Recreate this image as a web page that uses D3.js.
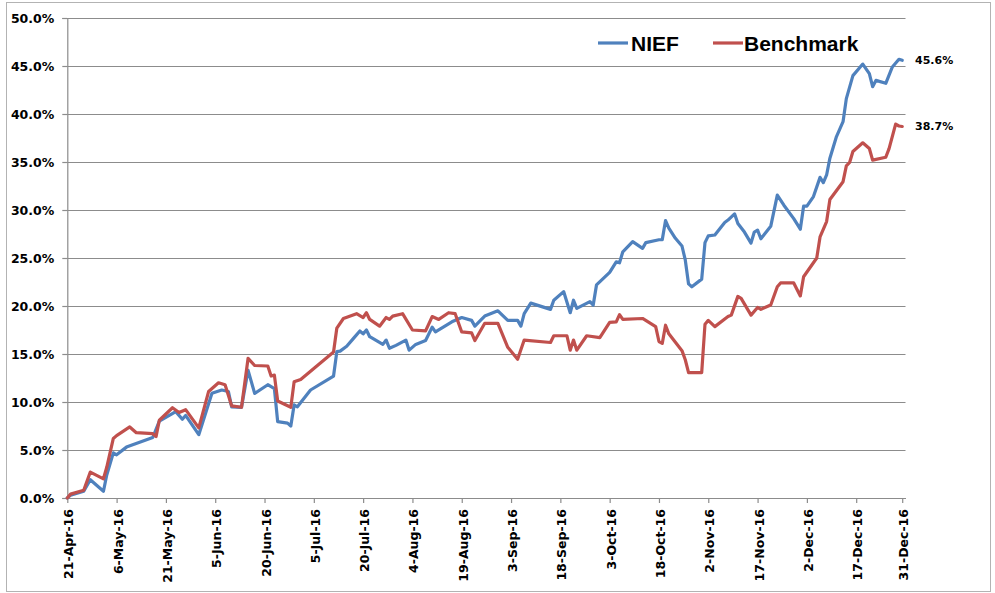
<!DOCTYPE html>
<html>
<head>
<meta charset="utf-8">
<script src="https://cdn.jsdelivr.net/npm/d3@7"></script>
<style>
  html, body { margin: 0; padding: 0; background: #ffffff; }
  svg { display: block; }
</style>
</head>
<body>
<svg id="chart" width="995" height="593"></svg>
<script>
// ---------- DATA ----------
const seriesNames = ["NIEF", "Benchmark"];
const seriesColors = ["#4F81BD", "#C0504D"];

const niefDates = ["2016-04-21","2016-04-22","2016-04-26","2016-04-28","2016-05-02","2016-05-03","2016-05-05","2016-05-06","2016-05-09","2016-05-13","2016-05-17","2016-05-19","2016-05-24","2016-05-26","2016-05-27","2016-05-31","2016-06-04","2016-06-07","2016-06-09","2016-06-10","2016-06-13","2016-06-15","2016-06-17","2016-06-21","2016-06-23","2016-06-24","2016-06-27","2016-06-28","2016-06-29","2016-06-30","2016-07-04","2016-07-11","2016-07-12","2016-07-13","2016-07-15","2016-07-17","2016-07-19","2016-07-20","2016-07-21","2016-07-22","2016-07-26","2016-07-27","2016-07-28","2016-07-30","2016-08-02","2016-08-03","2016-08-05","2016-08-08","2016-08-10","2016-08-11","2016-08-16","2016-08-19","2016-08-22","2016-08-23","2016-08-25","2016-08-26","2016-08-30","2016-09-02","2016-09-05","2016-09-06","2016-09-07","2016-09-09","2016-09-15","2016-09-16","2016-09-19","2016-09-21","2016-09-22","2016-09-23","2016-09-27","2016-09-28","2016-09-29","2016-10-03","2016-10-05","2016-10-06","2016-10-07","2016-10-10","2016-10-13","2016-10-14","2016-10-18","2016-10-19","2016-10-20","2016-10-21","2016-10-23","2016-10-25","2016-10-26","2016-10-27","2016-10-28","2016-10-31","2016-11-01","2016-11-02","2016-11-04","2016-11-07","2016-11-08","2016-11-10","2016-11-11","2016-11-13","2016-11-15","2016-11-16","2016-11-17","2016-11-18","2016-11-21","2016-11-23","2016-11-25","2016-11-28","2016-11-30","2016-12-01","2016-12-02","2016-12-04","2016-12-06","2016-12-07","2016-12-08","2016-12-09","2016-12-11","2016-12-13","2016-12-14","2016-12-16","2016-12-19","2016-12-21","2016-12-22","2016-12-23","2016-12-26","2016-12-28","2016-12-30","2016-12-31"];
const niefValues = [0.0,0.3,0.7,1.9,0.7,2.4,4.7,4.5,5.3,5.8,6.3,8.0,9.0,8.2,8.6,6.6,10.9,11.25,11.1,9.5,9.45,13.3,10.9,11.8,11.4,7.95,7.8,7.5,9.7,9.5,11.25,12.7,15.25,15.3,15.8,16.6,17.4,17.1,17.5,16.8,16.0,16.45,15.6,15.9,16.45,15.4,16.0,16.4,17.8,17.3,18.35,18.8,18.5,17.9,18.6,18.95,19.5,18.5,18.5,17.9,19.2,20.3,19.65,20.6,21.5,19.3,20.6,19.75,20.45,20.1,22.2,23.5,24.6,24.5,25.65,26.7,26.0,26.6,26.9,26.9,28.9,28.1,27.05,26.25,24.8,22.3,22.0,22.8,26.6,27.3,27.4,28.7,28.95,29.6,28.6,27.7,26.55,27.7,27.9,27.0,28.3,31.55,30.5,29.1,28.0,30.4,30.4,31.4,33.4,32.85,33.65,35.4,37.65,39.2,41.6,44.0,45.2,44.2,42.85,43.5,43.2,44.9,45.7,45.6];

const benchDates = ["2016-04-21","2016-04-22","2016-04-26","2016-04-28","2016-05-02","2016-05-03","2016-05-05","2016-05-06","2016-05-10","2016-05-12","2016-05-17","2016-05-18","2016-05-19","2016-05-23","2016-05-25","2016-05-27","2016-05-31","2016-06-03","2016-06-06","2016-06-08","2016-06-10","2016-06-13","2016-06-15","2016-06-17","2016-06-21","2016-06-22","2016-06-23","2016-06-24","2016-06-28","2016-06-29","2016-07-01","2016-07-11","2016-07-12","2016-07-14","2016-07-18","2016-07-20","2016-07-21","2016-07-22","2016-07-25","2016-07-27","2016-07-28","2016-07-29","2016-08-01","2016-08-04","2016-08-08","2016-08-10","2016-08-12","2016-08-15","2016-08-17","2016-08-19","2016-08-22","2016-08-23","2016-08-26","2016-08-30","2016-09-02","2016-09-05","2016-09-07","2016-09-15","2016-09-16","2016-09-20","2016-09-21","2016-09-22","2016-09-23","2016-09-26","2016-09-30","2016-10-03","2016-10-05","2016-10-06","2016-10-07","2016-10-13","2016-10-17","2016-10-18","2016-10-19","2016-10-20","2016-10-21","2016-10-25","2016-10-26","2016-10-27","2016-10-31","2016-11-01","2016-11-02","2016-11-04","2016-11-08","2016-11-09","2016-11-11","2016-11-12","2016-11-15","2016-11-17","2016-11-18","2016-11-21","2016-11-23","2016-11-24","2016-11-28","2016-11-30","2016-12-01","2016-12-05","2016-12-06","2016-12-08","2016-12-09","2016-12-13","2016-12-14","2016-12-15","2016-12-16","2016-12-19","2016-12-21","2016-12-22","2016-12-26","2016-12-27","2016-12-29","2016-12-30","2016-12-31"];
const benchValues = [0.0,0.4,0.8,2.7,2.0,3.2,6.2,6.5,7.4,6.8,6.7,6.4,8.1,9.4,8.9,9.2,7.3,11.1,12.0,11.8,9.6,9.45,14.55,13.8,13.75,12.7,12.8,10.1,9.45,12.1,12.35,15.2,17.7,18.7,19.2,18.8,19.3,18.6,17.9,18.8,18.6,18.95,19.2,17.5,17.4,18.9,18.6,19.3,19.2,17.3,17.2,16.4,18.2,18.2,15.7,14.45,16.45,16.2,16.9,16.9,15.4,16.45,15.4,16.9,16.7,18.3,18.35,19.1,18.6,18.7,17.85,16.3,16.1,18.0,17.1,15.35,14.4,13.05,13.05,18.1,18.5,17.85,18.9,19.05,21.0,20.8,19.05,19.85,19.65,20.1,22.0,22.4,22.4,21.05,23.05,25.0,27.2,28.8,31.1,32.95,34.6,34.95,36.1,37.0,36.4,35.2,35.5,36.4,38.95,38.75,38.7];

const yTickValues = [0, 5, 10, 15, 20, 25, 30, 35, 40, 45, 50];
const xTickLabels = ["21-Apr-16","6-May-16","21-May-16","5-Jun-16","20-Jun-16","5-Jul-16","20-Jul-16","4-Aug-16","19-Aug-16","3-Sep-16","18-Sep-16","3-Oct-16","18-Oct-16","2-Nov-16","17-Nov-16","2-Dec-16","17-Dec-16","31-Dec-16"];
const endLabels = ["45.6%", "38.7%"];

// ---------- CHART ----------
const parse = d3.timeParse("%d-%b-%y");
const parseISO = d3.timeParse("%Y-%m-%d");
const svg = d3.select("#chart");

const plot = { left: 67.3, right: 905.5, top: 18, bottom: 498 };

const x = d3.scaleTime()
  .domain([parseISO("2016-04-21"), parseISO("2017-01-01")])
  .range([plot.left, plot.right]);
const y = d3.scaleLinear().domain([0, 50]).range([plot.bottom, plot.top]);

// outer frame
svg.append("rect")
  .attr("x", 6.5).attr("y", 2.5).attr("width", 984).attr("height", 589)
  .attr("fill", "#ffffff").attr("stroke", "#b3b3b3").attr("stroke-width", 1);

// gridlines
svg.append("g")
  .selectAll("line")
  .data(yTickValues.filter(v => v > 0))
  .join("line")
  .attr("x1", plot.left).attr("x2", plot.right)
  .attr("y1", d => Math.round(y(d)) + 0.5).attr("y2", d => Math.round(y(d)) + 0.5)
  .attr("stroke", "#8c8c8c").attr("stroke-width", 1.2);

// y axis
const yAxis = d3.axisLeft(y).tickValues(yTickValues).tickSize(5).tickPadding(8)
  .tickFormat(d => d.toFixed(1) + "%");
const gy = svg.append("g").attr("transform", `translate(${plot.left},0)`).call(yAxis);
gy.select(".domain").attr("stroke", "#8c8c8c").attr("stroke-width", 1.2);
gy.selectAll(".tick line").attr("stroke", "#8c8c8c").attr("stroke-width", 1.2);
gy.selectAll(".tick text")
  .attr("font-family", "DejaVu Sans").attr("font-weight", "bold")
  .attr("font-size", "12.5px").attr("fill", "#000");

// x axis
const xTickDates = xTickLabels.map(parse);
const xAxis = d3.axisBottom(x).tickValues(xTickDates).tickSize(5).tickSizeOuter(0)
  .tickFormat((d, i) => xTickLabels[i]);
const gx = svg.append("g").attr("transform", `translate(0,${plot.bottom})`).call(xAxis);
gx.select(".domain").attr("stroke", "#8c8c8c").attr("stroke-width", 1.2);
gx.selectAll(".tick line").attr("stroke", "#8c8c8c").attr("stroke-width", 1.2);
gx.selectAll(".tick text")
  .attr("font-family", "DejaVu Sans").attr("font-weight", "bold")
  .attr("font-size", "12.5px").attr("fill", "#000")
  .attr("text-anchor", "end")
  .attr("transform", "translate(5.5,11) rotate(-90)")
  .attr("x", 0).attr("y", 0).attr("dy", "0");

// lines
const allSeries = [
  { name: seriesNames[0], color: seriesColors[0], pts: niefDates.map((d, i) => [parseISO(d), niefValues[i]]) },
  { name: seriesNames[1], color: seriesColors[1], pts: benchDates.map((d, i) => [parseISO(d), benchValues[i]]) }
];
const line = d3.line().x(d => x(d[0])).y(d => y(d[1]));

// draw benchmark first then NIEF? Reference: red mostly on top in early part
svg.append("g").selectAll("path")
  .data([allSeries[0], allSeries[1]])
  .join("path")
  .attr("d", d => line(d.pts))
  .attr("fill", "none")
  .attr("stroke", d => d.color)
  .attr("stroke-width", 3.2)
  .attr("stroke-linejoin", "round")
  .attr("stroke-linecap", "round");

// end labels
svg.append("g").selectAll("text")
  .data(allSeries)
  .join("text")
  .attr("x", 915)
  .attr("y", (d, i) => y(d.pts[d.pts.length - 1][1]) + 4)
  .attr("font-family", "DejaVu Sans").attr("font-weight", "bold")
  .attr("font-size", "11px").attr("fill", "#000")
  .text((d, i) => endLabels[i]);

// legend
const legend = svg.append("g");
const legendPos = [{ lx: 598, tx: 631 }, { lx: 713, tx: 744 }];
allSeries.forEach((s, i) => {
  legend.append("line")
    .attr("x1", legendPos[i].lx).attr("x2", legendPos[i].lx + 30)
    .attr("y1", 43).attr("y2", 43)
    .attr("stroke", s.color).attr("stroke-width", 3.2);
  legend.append("text")
    .attr("x", legendPos[i].tx).attr("y", 50.5)
    .attr("font-family", "Liberation Sans").attr("font-weight", "bold")
    .attr("font-size", "21px").attr("fill", "#000")
    .text(s.name);
});
</script>
</body>
</html>
